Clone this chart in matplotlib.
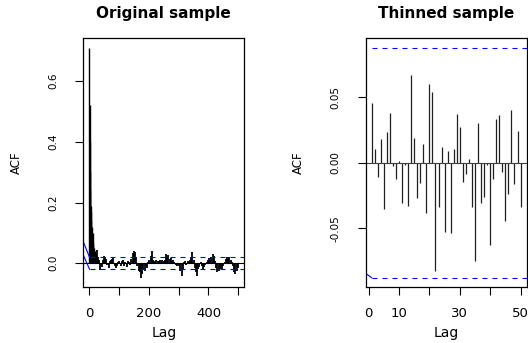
import numpy as np
import matplotlib.pyplot as plt

# ACF of the original chain: lags 1..20 one by one, then every 4th lag from 22
orig_head = [0.71, 0.52, 0.40, 0.30, 0.24, 0.19, 0.17, 0.14, 0.12, 0.10,
             0.09, 0.10, 0.07, 0.06, 0.05, 0.04, 0.05, 0.03, 0.04, 0.02]
orig_tail = [0.03, 0.045, 0.02, 0.01, -0.022, -0.012, 0.01, 0.025, 0.02, 0.015,
             -0.005, -0.015, 0.008, 0.012, 0.015, 0.02, -0.008, -0.015, -0.01, 0.005,
             0.008, -0.01, 0.006, 0.01, -0.008, 0.004, -0.012, 0.006, 0.003, -0.005,
             0.015, 0.035, 0.042, 0.038, 0.02, -0.01, -0.025, -0.03, -0.048, -0.035,
             -0.02, -0.025, -0.01, -0.015, 0.005, 0.01, 0.025, 0.04, 0.012, 0.008,
             0.004, 0.01, 0.006, 0.008, 0.012, 0.003, 0.01, 0.006, 0.01, 0.03,
             0.022, 0.028, 0.015, 0.018, 0.008, 0.012, 0.004, -0.004, -0.008, 0.002,
             -0.01, -0.025, -0.042, -0.02, 0.004, 0.006, -0.006, 0.008, 0.004, 0.01,
             0.02, 0.037, 0.01, -0.015, -0.03, -0.042, -0.02, -0.012, 0.004, -0.008,
             -0.018, -0.012, -0.006, 0.004, 0.012, 0.018, 0.01, 0.022, 0.03, 0.025,
             0.008, -0.015, -0.03, -0.025, -0.018, -0.012, -0.02, -0.008, 0.004, 0.014,
             0.02, 0.015, 0.022, 0.012, 0.004, -0.01, -0.03, -0.035, -0.025, -0.015]

# ACF of the thinned chain, lags 1..50
thin_acf = [0.046, 0.011, -0.011, 0.0186, -0.035, 0.024, 0.038, -0.0023, -0.012, 0.0015,
            -0.0305, -0.0013, -0.033, 0.0674, 0.019, -0.0265, -0.0153, 0.0142, -0.038, 0.0606,
            0.0545, -0.0827, -0.034, 0.0122, -0.053, 0.0092, -0.0537, 0.0107, 0.0374, 0.0277,
            -0.0148, -0.0087, 0.003, -0.0336, -0.075, 0.0308, -0.0308, -0.026, -0.0013, -0.0626,
            -0.012, 0.0333, 0.0366, -0.0069, -0.0445, -0.0237, 0.0407, -0.0158, 0.0244, -0.0333]

ci_orig = 0.0196
ci_thin = 0.0877
# start of the confidence band lines (solid slanted piece at the left edge)
orig_band_x = [-19, 2]
orig_band_up = [0.071, ci_orig]
orig_band_lo = [0.027, -ci_orig]
thin_band_x = [-0.96, 1]
thin_band_lo = [-0.0844, -ci_thin]

orig_xticks = [0, 100, 200, 300, 400, 500]
orig_xlabels = ["0", "", "200", "", "400", ""]
orig_yticks = [0.0, 0.2, 0.4, 0.6]
orig_ylabels = ["0.0", "0.2", "0.4", "0.6"]
thin_xticks = [0, 10, 20, 30, 40, 50]
thin_xlabels = ["0", "10", "", "30", "", "50"]
thin_yticks = [-0.05, 0.0, 0.05]
thin_ylabels = ["-0.05", "0.00", "0.05"]

plt.rcParams['font.family'] = 'DejaVu Sans'
fig = plt.figure(figsize=(5.28, 3.43), dpi=100)
W, H = 528, 343

def make_axes(x0, x1, y0, y1):
    return fig.add_axes([x0 / W, 1 - y1 / H, (x1 - x0) / W, (y1 - y0) / H])

def style(ax, xt, xl, yt, yl, title):
    ax.set_xticks(xt)
    ax.set_xticklabels(xl, fontsize=9.5)
    ax.set_yticks(yt)
    ax.set_yticklabels(yl, fontsize=7.5, rotation=90, va='center')
    ax.tick_params(axis='x', length=6, width=0.8, pad=8)
    ax.tick_params(axis='y', length=6, width=0.8, pad=12)
    for s in ax.spines.values():
        s.set_linewidth(0.9)
    ax.text(0.5, 1.098, title, transform=ax.transAxes, ha='center', va='center',
            fontsize=11, fontweight='bold')
    ax.set_xlabel("Lag", fontsize=10)
    ax.xaxis.set_label_coords(0.5, -0.185)
    ax.xaxis.label.set_va('center')
    ax.set_ylabel("ACF", fontsize=8.5)
    ax.yaxis.label.set_va('center')

# left panel
ax1 = make_axes(83.3, 244.3, 38.3, 287.3)
lags_head = np.arange(1, len(orig_head) + 1)
lags_tail = 22 + 4 * np.arange(len(orig_tail))
ax1.vlines(lags_head, 0, orig_head, color='black', lw=1.0)
ax1.vlines(lags_tail, 0, orig_tail, color='black', lw=1.3)
ax1.axhline(0, color='black', lw=0.8)
ax1.plot(orig_band_x, orig_band_up, color='blue', lw=0.8)
ax1.plot(orig_band_x, orig_band_lo, color='blue', lw=0.8)
ax1.hlines([ci_orig, -ci_orig], orig_band_x[-1], 520, colors='blue', lw=0.8,
           linestyles=(0, (4.5, 4.5)))
ax1.set_xlim(-19, 520)
ax1.set_ylim(-0.079, 0.741)
style(ax1, orig_xticks, orig_xlabels, orig_yticks, orig_ylabels, "Original sample")
ax1.yaxis.set_label_coords(-0.414, 0.5)

# right panel
ax2 = make_axes(365.7, 526.5, 38.3, 287.3)
lags_thin = np.arange(1, len(thin_acf) + 1)
ax2.vlines(lags_thin, 0, thin_acf, color='#202020', lw=0.9)
ax2.axhline(0, color='#404040', lw=0.8)
ax2.plot(thin_band_x, thin_band_lo, color='blue', lw=0.8)
ax2.hlines([ci_thin, -ci_thin], thin_band_x[-1], 52, colors='blue', lw=0.8,
           linestyles=(0, (4.5, 4.5)))
ax2.set_xlim(-0.96, 51.96)
ax2.set_ylim(-0.095, 0.0952)
style(ax2, thin_xticks, thin_xlabels, thin_yticks, thin_ylabels, "Thinned sample")
ax2.yaxis.set_label_coords(-0.421, 0.5)

fig.savefig("out.png", dpi=100)
